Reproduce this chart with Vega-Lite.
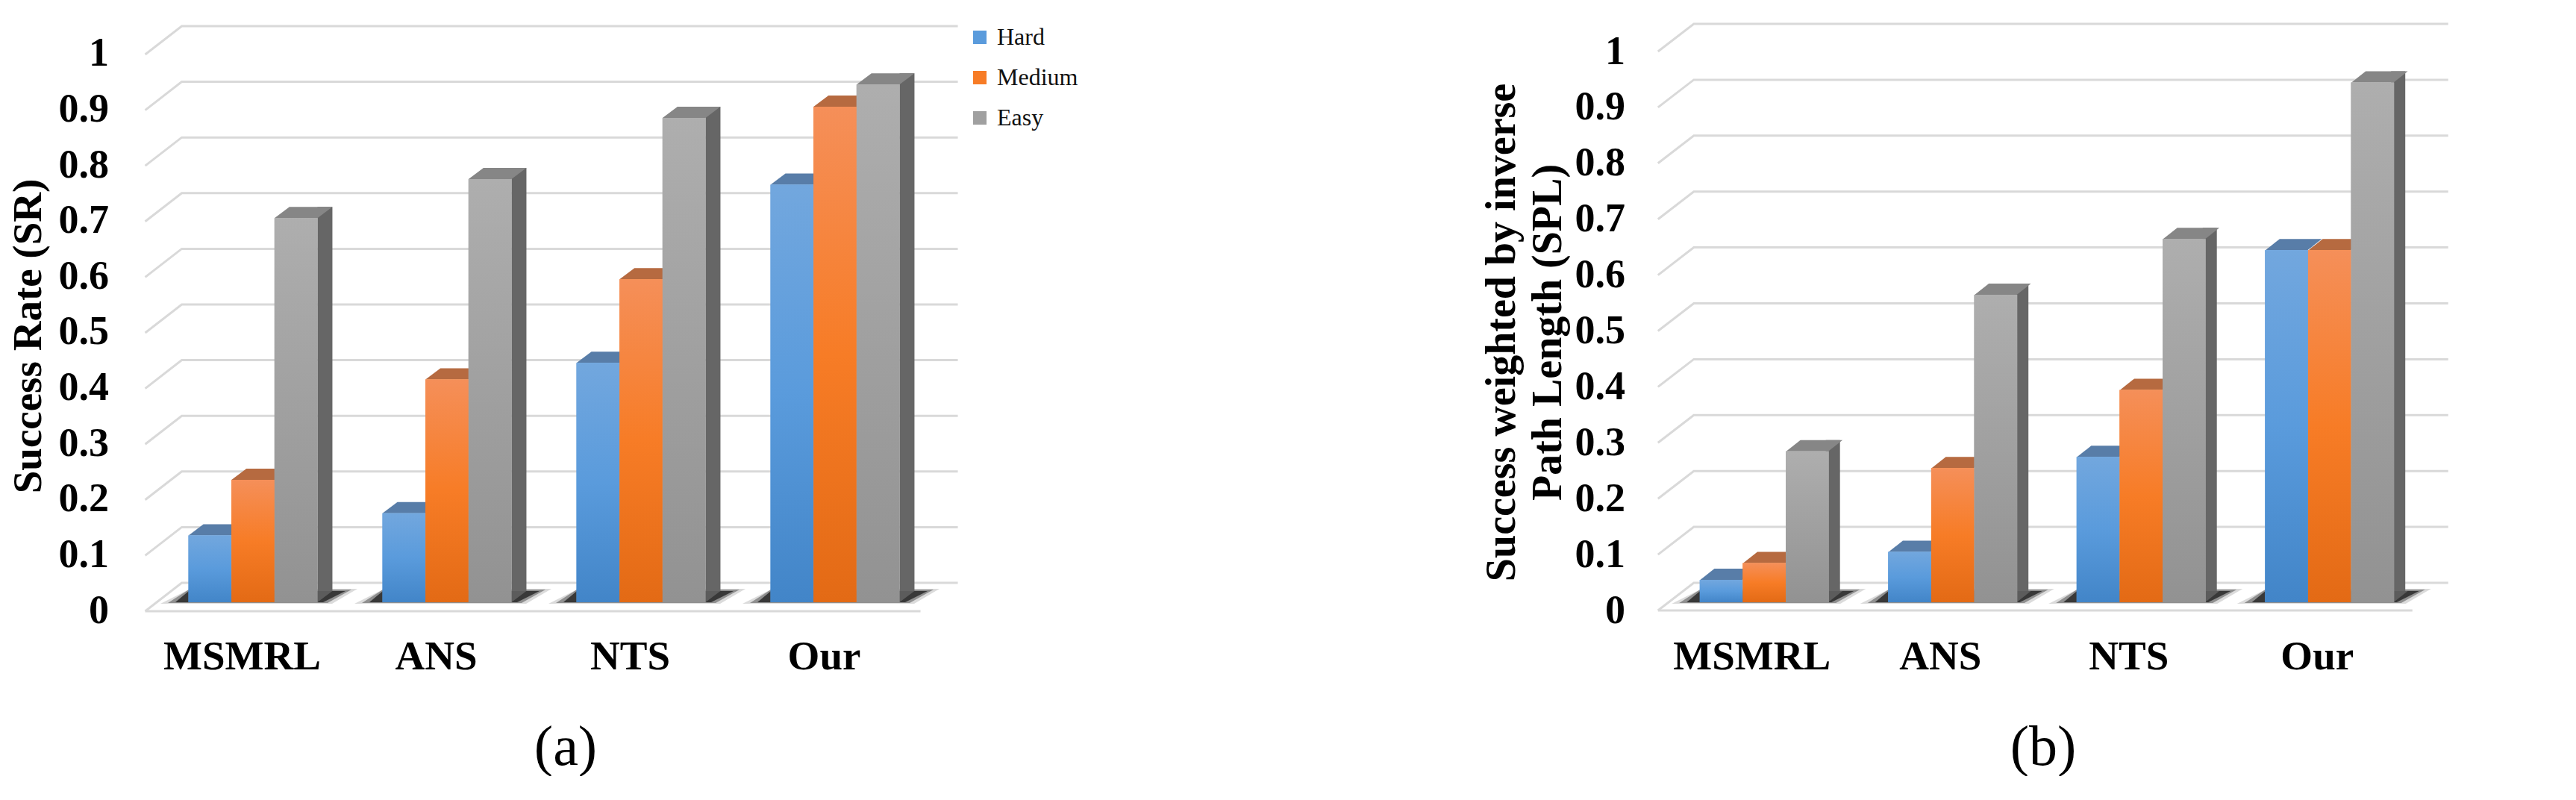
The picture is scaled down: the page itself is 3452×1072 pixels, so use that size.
{"$schema":"https://vega.github.io/schema/vega-lite/v6.json","background":"white","padding":{"left":10,"top":26,"right":0,"bottom":0},"spacing":694,
"datasets":{"a":[{"method":"MSMRL","level":"Hard","value":0.12},{"method":"MSMRL","level":"Medium","value":0.22},{"method":"MSMRL","level":"Easy","value":0.69},{"method":"ANS","level":"Hard","value":0.16},{"method":"ANS","level":"Medium","value":0.40},{"method":"ANS","level":"Easy","value":0.76},{"method":"NTS","level":"Hard","value":0.43},{"method":"NTS","level":"Medium","value":0.58},{"method":"NTS","level":"Easy","value":0.87},{"method":"Our","level":"Hard","value":0.75},{"method":"Our","level":"Medium","value":0.89},{"method":"Our","level":"Easy","value":0.93}],
"b":[{"method":"MSMRL","level":"Hard","value":0.04},{"method":"MSMRL","level":"Medium","value":0.07},{"method":"MSMRL","level":"Easy","value":0.27},{"method":"ANS","level":"Hard","value":0.09},{"method":"ANS","level":"Medium","value":0.24},{"method":"ANS","level":"Easy","value":0.55},{"method":"NTS","level":"Hard","value":0.26},{"method":"NTS","level":"Medium","value":0.38},{"method":"NTS","level":"Easy","value":0.65},{"method":"Our","level":"Hard","value":0.63},{"method":"Our","level":"Medium","value":0.63},{"method":"Our","level":"Easy","value":0.93}],
"ticks":[{"tick":0},{"tick":0.1},{"tick":0.2},{"tick":0.3},{"tick":0.4},{"tick":0.5},{"tick":0.6},{"tick":0.7},{"tick":0.8},{"tick":0.9},{"tick":1}]},
"config":{"view":{"stroke":null}},
"hconcat":[
{"width":1040,"height":749,"title":{"text":"(a)","orient":"bottom","font":"Liberation Serif","fontSize":76,"fontWeight":"normal","color":"#000000","anchor":"middle","dx":29,"offset":58},
"layer":[
{"data":{"name":"ticks"},"mark":{"type":"point","shape":"M-58,12 L-9,-26 L1031,-26","filled":false,"stroke":"#D9D9D9","strokeWidth":3,"size":4,"opacity":1},"encoding":{
"x":{"datum":"MSMRL","type":"nominal","bandPosition":0,"scale":{"domain":["MSMRL","ANS","NTS","Our"],"paddingInner":0.335,"paddingOuter":0.1675},"axis":{"title":null,"domain":false,"ticks":false,"labelAngle":0,"labelLimit":500,"labelOffset":-14.5,"labelFont":"Liberation Serif","labelFontWeight":"bold","labelFontSize":55,"labelColor":"#000000","labelPadding":46}},
"y":{"field":"tick","type":"quantitative","scale":{"domain":[0,1.004],"nice":false},"axis":{"values":[0,0.1,0.2,0.3,0.4,0.5,0.6,0.7,0.8,0.9,1],"labelExpr":"toString(datum.value)","grid":false,"domain":false,"ticks":false,"labelFont":"Liberation Serif","labelFontWeight":"bold","labelFontSize":54,"labelColor":"#000000","labelPadding":63.5,"labelOffset":11,"title":"Success Rate (SR)","titleFont":"Liberation Serif","titleFontWeight":"bold","titleFontSize":55,"titleColor":"#000000","titleAngle":-90,"titleAlign":"center","titleBaseline":"middle","titleX":-171.5,"titleY":392}}}},
{"data":{"name":"ticks"},"transform":[{"filter":"datum.tick==0"}],"mark":{"type":"point","shape":"M-58,12 L981,12","filled":false,"stroke":"#D9D9D9","strokeWidth":3,"size":4,"opacity":1},"encoding":{"x":{"datum":"MSMRL","type":"nominal","bandPosition":0},"y":{"field":"tick","type":"quantitative"}}},
{"data":{"name":"a"},"transform":[{"filter":"datum.level=='Easy'"}],"mark":{"type":"point","shape":"M-124,2 L106,2 L140,-18 L-84,-18 Z","filled":true,"color":"#888888","size":4,"opacity":0.3},"encoding":{"x":{"field":"method","type":"nominal"},"y":{"datum":0,"type":"quantitative"}}},
{"data":{"name":"a"},"transform":[{"filter":"datum.level=='Easy'"}],"mark":{"type":"point","shape":"M-114,1 L100,1 L132,-17 L-86,-17 Z","filled":true,"color":"#444444","size":4,"opacity":0.5},"encoding":{"x":{"field":"method","type":"nominal"},"y":{"datum":0,"type":"quantitative"}}},
{"data":{"name":"a"},"transform":[{"filter":"datum.level=='Easy'"}],"mark":{"type":"point","shape":"M-104,0 L94,0 L124,-15 L-86,-15 Z","filled":true,"color":"#222222","size":4,"opacity":0.8},"encoding":{"x":{"field":"method","type":"nominal"},"y":{"datum":0,"type":"quantitative"}}},
{"data":{"name":"a"},"transform":[{"filter":"datum.level=='Easy'"}],"mark":{"type":"rule","strokeWidth":20,"color":"#666666","yOffset":-15,"y2Offset":-15},"encoding":{"x":{"field":"method","type":"nominal","bandPosition":1.0578},"y":{"field":"value","type":"quantitative"},"y2":{"datum":0}}},
{"data":{"name":"a"},"transform":[{"filter":"datum.level=='Easy'"}],"mark":{"type":"point","shape":"M28.8,0 L48.8,-15 L28.8,-15 Z","filled":true,"color":"#5C5C5C","size":4,"opacity":1},"encoding":{"x":{"field":"method","type":"nominal"},"xOffset":{"field":"level","type":"nominal","scale":{"domain":["Hard","Medium","Easy"]}},"y":{"datum":0,"type":"quantitative"}}},
{"data":{"name":"a"},"mark":{"type":"point","shape":"M-28.8,0 L28.8,0 L48.8,-15 L-8.8,-15 Z","filled":true,"size":4,"opacity":1},"encoding":{"x":{"field":"method","type":"nominal"},"xOffset":{"field":"level","type":"nominal"},"y":{"field":"value","type":"quantitative"},"fill":{"field":"level","type":"nominal","legend":null,"scale":{"domain":["Easy","Medium","Hard"],"range":["#868686","#B66A40","#587DA8"]}}}},
{"data":{"name":"a"},"mark":{"type":"bar"},"encoding":{"x":{"field":"method","type":"nominal"},"xOffset":{"field":"level","type":"nominal"},"y":{"field":"value","type":"quantitative"},"color":{"field":"level","type":"nominal","scale":{"domain":["Hard","Medium","Easy"],"range":["#5A9BDC","#F77C26","#A0A0A0"]},"legend":{"orient":"none","legendX":1088,"legendY":-24,"title":null,"symbolType":"square","symbolSize":324,"symbolStrokeWidth":0,"symbolOpacity":1,"labelFont":"Liberation Serif","labelFontSize":32,"labelColor":"#111111","rowPadding":22,"labelOffset":7}}}},
{"data":{"name":"a"},"transform":[{"filter":"datum.level=='Hard'"}],"mark":{"type":"bar","color":{"gradient":"linear","x1":0,"y1":0,"x2":0,"y2":1,"stops":[{"offset":0,"color":"#72A7DE"},{"offset":0.5,"color":"#5A9BDC"},{"offset":1,"color":"#4285C8"}]}},"encoding":{"x":{"field":"method","type":"nominal"},"xOffset":{"field":"level","type":"nominal"},"y":{"field":"value","type":"quantitative"}}},
{"data":{"name":"a"},"transform":[{"filter":"datum.level=='Medium'"}],"mark":{"type":"bar","color":{"gradient":"linear","x1":0,"y1":0,"x2":0,"y2":1,"stops":[{"offset":0,"color":"#F58F59"},{"offset":0.5,"color":"#F77C26"},{"offset":1,"color":"#E36A15"}]}},"encoding":{"x":{"field":"method","type":"nominal"},"xOffset":{"field":"level","type":"nominal"},"y":{"field":"value","type":"quantitative"}}},
{"data":{"name":"a"},"transform":[{"filter":"datum.level=='Easy'"}],"mark":{"type":"bar","color":{"gradient":"linear","x1":0,"y1":0,"x2":0,"y2":1,"stops":[{"offset":0,"color":"#AEAEAE"},{"offset":1,"color":"#929292"}]}},"encoding":{"x":{"field":"method","type":"nominal"},"xOffset":{"field":"level","type":"nominal"},"y":{"field":"value","type":"quantitative"}}}
]},
{"width":1010,"height":749,"title":{"text":"(b)","orient":"bottom","font":"Liberation Serif","fontSize":76,"fontWeight":"normal","color":"#000000","anchor":"middle","dx":-3,"offset":58},
"layer":[
{"data":{"name":"ticks"},"mark":{"type":"point","shape":"M-56,11 L-8,-26 L1003,-26","filled":false,"stroke":"#D9D9D9","strokeWidth":3,"size":4,"opacity":1},"encoding":{
"x":{"datum":"MSMRL","type":"nominal","bandPosition":0,"scale":{"domain":["MSMRL","ANS","NTS","Our"],"paddingInner":0.331,"paddingOuter":0.1655},"axis":{"title":null,"domain":false,"ticks":false,"labelAngle":0,"labelLimit":500,"labelOffset":-14.5,"labelFont":"Liberation Serif","labelFontWeight":"bold","labelFontSize":55,"labelColor":"#000000","labelPadding":46}},
"y":{"field":"tick","type":"quantitative","scale":{"domain":[0,1],"nice":false},"axis":{"values":[0,0.1,0.2,0.3,0.4,0.5,0.6,0.7,0.8,0.9,1],"labelExpr":"toString(datum.value)","grid":false,"domain":false,"ticks":false,"labelFont":"Liberation Serif","labelFontWeight":"bold","labelFontSize":54,"labelColor":"#000000","labelPadding":58.5,"labelOffset":11,"title":["Success weighted by inverse","Path Length (SPL)"],"titleFont":"Liberation Serif","titleFontWeight":"bold","titleFontSize":56,"titleLineHeight":62,"titleColor":"#000000","titleAngle":-90,"titleAlign":"center","titleBaseline":"middle","titleX":-223.5,"titleY":387}}}},
{"data":{"name":"ticks"},"transform":[{"filter":"datum.tick==0"}],"mark":{"type":"point","shape":"M-56,11 L955,11","filled":false,"stroke":"#D9D9D9","strokeWidth":3,"size":4,"opacity":1},"encoding":{"x":{"datum":"MSMRL","type":"nominal","bandPosition":0},"y":{"field":"tick","type":"quantitative"}}},
{"data":{"name":"b"},"transform":[{"filter":"datum.level=='Easy'"}],"mark":{"type":"point","shape":"M-122,2 L104,2 L138,-18 L-82,-18 Z","filled":true,"color":"#888888","size":4,"opacity":0.3},"encoding":{"x":{"field":"method","type":"nominal"},"y":{"datum":0,"type":"quantitative"}}},
{"data":{"name":"b"},"transform":[{"filter":"datum.level=='Easy'"}],"mark":{"type":"point","shape":"M-112,1 L98,1 L130,-17 L-84,-17 Z","filled":true,"color":"#444444","size":4,"opacity":0.5},"encoding":{"x":{"field":"method","type":"nominal"},"y":{"datum":0,"type":"quantitative"}}},
{"data":{"name":"b"},"transform":[{"filter":"datum.level=='Easy'"}],"mark":{"type":"point","shape":"M-102,0 L92,0 L122,-15 L-84,-15 Z","filled":true,"color":"#222222","size":4,"opacity":0.8},"encoding":{"x":{"field":"method","type":"nominal"},"y":{"datum":0,"type":"quantitative"}}},
{"data":{"name":"b"},"transform":[{"filter":"datum.level=='Easy'"}],"mark":{"type":"rule","strokeWidth":19,"color":"#666666","yOffset":-15,"y2Offset":-15},"encoding":{"x":{"field":"method","type":"nominal","bandPosition":1.0562},"y":{"field":"value","type":"quantitative"},"y2":{"datum":0}}},
{"data":{"name":"b"},"transform":[{"filter":"datum.level=='Easy'"}],"mark":{"type":"point","shape":"M28.2,0 L47.2,-15 L28.2,-15 Z","filled":true,"color":"#5C5C5C","size":4,"opacity":1},"encoding":{"x":{"field":"method","type":"nominal"},"xOffset":{"field":"level","type":"nominal","scale":{"domain":["Hard","Medium","Easy"]}},"y":{"datum":0,"type":"quantitative"}}},
{"data":{"name":"b"},"mark":{"type":"point","shape":"M-28.2,0 L28.2,0 L47.2,-15 L-9.2,-15 Z","filled":true,"size":4,"opacity":1},"encoding":{"x":{"field":"method","type":"nominal"},"xOffset":{"field":"level","type":"nominal"},"y":{"field":"value","type":"quantitative"},"fill":{"field":"level","type":"nominal","legend":null,"scale":{"domain":["Easy","Medium","Hard"],"range":["#868686","#B66A40","#587DA8"]}}}},
{"data":{"name":"b"},"mark":{"type":"bar"},"encoding":{"x":{"field":"method","type":"nominal"},"xOffset":{"field":"level","type":"nominal"},"y":{"field":"value","type":"quantitative"},"color":{"field":"level","type":"nominal","scale":{"domain":["Hard","Medium","Easy"],"range":["#5A9BDC","#F77C26","#A0A0A0"]},"legend":{"orient":"none","legendX":1056,"legendY":-19,"title":null,"symbolType":"square","symbolSize":324,"symbolStrokeWidth":0,"symbolOpacity":1,"labelFont":"Liberation Serif","labelFontSize":32,"labelColor":"#111111","rowPadding":22,"labelOffset":7}}}},
{"data":{"name":"b"},"transform":[{"filter":"datum.level=='Hard'"}],"mark":{"type":"bar","color":{"gradient":"linear","x1":0,"y1":0,"x2":0,"y2":1,"stops":[{"offset":0,"color":"#72A7DE"},{"offset":0.5,"color":"#5A9BDC"},{"offset":1,"color":"#4285C8"}]}},"encoding":{"x":{"field":"method","type":"nominal"},"xOffset":{"field":"level","type":"nominal"},"y":{"field":"value","type":"quantitative"}}},
{"data":{"name":"b"},"transform":[{"filter":"datum.level=='Medium'"}],"mark":{"type":"bar","color":{"gradient":"linear","x1":0,"y1":0,"x2":0,"y2":1,"stops":[{"offset":0,"color":"#F58F59"},{"offset":0.5,"color":"#F77C26"},{"offset":1,"color":"#E36A15"}]}},"encoding":{"x":{"field":"method","type":"nominal"},"xOffset":{"field":"level","type":"nominal"},"y":{"field":"value","type":"quantitative"}}},
{"data":{"name":"b"},"transform":[{"filter":"datum.level=='Easy'"}],"mark":{"type":"bar","color":{"gradient":"linear","x1":0,"y1":0,"x2":0,"y2":1,"stops":[{"offset":0,"color":"#AEAEAE"},{"offset":1,"color":"#929292"}]}},"encoding":{"x":{"field":"method","type":"nominal"},"xOffset":{"field":"level","type":"nominal"},"y":{"field":"value","type":"quantitative"}}}
]}
]}
